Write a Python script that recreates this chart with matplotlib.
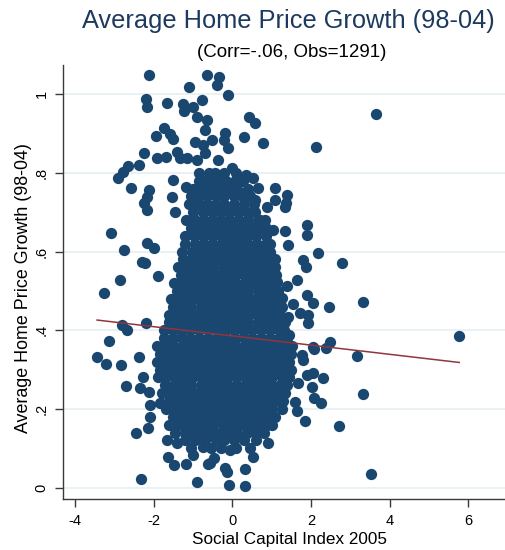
import numpy as np
import matplotlib
matplotlib.use("Agg")
import matplotlib.pyplot as plt

plt.rcParams['font.family'] = ['Liberation Sans', 'DejaVu Sans']

# scattered counties
sparse_x = [-2.12, -1.10, -0.64, -0.34, -0.39, -0.11, -2.20, -2.17, -1.66, -1.25,
            -1.23, -1.00, -0.77, -0.90, -0.64, 0.42, 0.58, -1.74, -1.94, -1.59,
            -1.51, -0.95, -0.75, -0.69, -2.25, -1.92, -1.69, -1.41, -1.33, -1.15,
            -0.90, -2.65, -2.37, -2.78, -2.91, -2.58, -2.12, -2.17, -1.51, -1.18,
            -1.53, -0.19, -0.52, -0.11, -0.21, 0.30, 0.78, 2.13, -0.69, -0.36,
            -0.01, 0.35, 0.53, 0.65, 1.09, 1.39, -0.64, -0.31, 0.02, 0.27,
            0.58, 1.09, 1.34, 0.88, 3.65, -3.09, -2.17, -1.99, -2.76, -2.30,
            -2.22, -2.86, -1.89, -3.27, -2.81, -2.68, -2.20, -3.14, -2.17, -2.25,
            -1.46, 1.90, 1.90, 2.18, 2.79, 1.80, 1.88, 1.65, 1.39, 1.26,
            1.90, 2.05, 2.46, 1.54, 1.72, 1.93, 1.93, 1.42, 1.44, 2.05,
            2.49, 1.37, 0.70, 1.04, 1.34, 1.42, 1.14, 3.32, 5.77, 3.18,
            3.33, 2.72, 3.53, -3.44, -3.21, -2.83, -2.37, -2.70, -2.27, -2.35,
            -2.12, -2.09, -1.84, -2.09, -2.15, -2.45, -2.32, -0.90, -1.66, -1.41,
            -1.64, -1.48, -1.18, -1.00, -0.62, 2.08, 2.38, 1.77, 1.80, 1.67,
            1.90, 2.05, 2.31, 2.03, 2.08, 2.26, 1.60, 1.65, 1.85, 0.91,
            0.53, 0.32, -0.47, -0.57, -0.19, -0.13, -0.08, 0.32, -0.06, -0.75]
sparse_y = [1.049, 1.019, 1.049, 1.044, 1.024, 0.998, 0.988, 0.968, 0.978, 0.975,
            0.958, 0.968, 0.986, 0.942, 0.935, 0.942, 0.927, 0.914, 0.894, 0.899,
            0.886, 0.879, 0.871, 0.910, 0.851, 0.838, 0.841, 0.853, 0.838, 0.838,
            0.833, 0.818, 0.820, 0.802, 0.787, 0.762, 0.757, 0.739, 0.782, 0.764,
            0.739, 0.901, 0.884, 0.863, 0.884, 0.891, 0.876, 0.866, 0.851, 0.833,
            0.813, 0.794, 0.787, 0.762, 0.762, 0.744, 0.782, 0.782, 0.774, 0.739,
            0.731, 0.731, 0.713, 0.713, 0.950, 0.647, 0.621, 0.609, 0.604, 0.574,
            0.571, 0.528, 0.538, 0.495, 0.414, 0.401, 0.419, 0.373, 0.706, 0.724,
            0.701, 0.667, 0.642, 0.596, 0.571, 0.579, 0.561, 0.528, 0.513, 0.482,
            0.490, 0.469, 0.459, 0.467, 0.444, 0.439, 0.419, 0.434, 0.388, 0.358,
            0.370, 0.724, 0.680, 0.655, 0.652, 0.617, 0.523, 0.473, 0.386, 0.335,
            0.238, 0.157, 0.034, 0.332, 0.315, 0.312, 0.332, 0.259, 0.281, 0.254,
            0.243, 0.210, 0.216, 0.180, 0.152, 0.139, 0.022, 0.015, 0.121, 0.114,
            0.078, 0.058, 0.060, 0.083, 0.060, 0.353, 0.355, 0.337, 0.325, 0.266,
            0.286, 0.291, 0.279, 0.256, 0.228, 0.216, 0.218, 0.195, 0.170, 0.113,
            0.078, 0.048, 0.075, 0.063, 0.050, 0.040, 0.007, 0.005, 0.096, 0.104]

# dense core, one row of x values per growth level
core_y = [0.80, 0.78, 0.76, 0.74, 0.72, 0.70, 0.68, 0.66, 0.64, 0.62,
          0.60, 0.58, 0.56, 0.54, 0.52, 0.50, 0.48, 0.46, 0.44, 0.42,
          0.40, 0.38, 0.36, 0.34, 0.32, 0.30, 0.28, 0.26, 0.24, 0.22,
          0.20, 0.18, 0.16, 0.14, 0.12, 0.10]
core_x = [
    [-0.85, -0.6, -0.45, -0.2, 0.1],
    [-0.86, -0.62, -0.4, -0.16, 0.06, 0.28],
    [-1.0, -0.78, -0.55, -0.35, -0.1, 0.12, 0.4],
    [-1.05, -0.86, -0.64, -0.42, -0.2, 0.03, 0.26, 0.45],
    [-1.1, -0.88, -0.65, -0.42, -0.2, 0.05, 0.3, 0.55],
    [-1.0, -0.74, -0.52, -0.3, -0.08, 0.14, 0.37, 0.58],
    [-1.18, -0.95, -0.72, -0.5, -0.28, -0.05, 0.18, 0.4, 0.65, 0.82],
    [-1.05, -0.82, -0.6, -0.37, -0.14, 0.09, 0.31, 0.52, 0.72, 0.85],
    [-1.2, -0.98, -0.75, -0.52, -0.3, -0.08, 0.15, 0.38, 0.6, 0.85],
    [-1.2, -0.95, -0.72, -0.5, -0.27, -0.04, 0.19, 0.41, 0.63, 0.85, 0.97],
    [-1.28, -1.02, -0.8, -0.58, -0.35, -0.12, 0.1, 0.32, 0.55, 0.78, 0.95],
    [-1.25, -1.02, -0.8, -0.57, -0.34, -0.11, 0.11, 0.34, 0.56, 0.79, 0.98, 1.08],
    [-1.38, -1.15, -0.92, -0.7, -0.48, -0.25, -0.02, 0.2, 0.42, 0.65, 0.88, 1.08],
    [-1.3, -1.07, -0.84, -0.61, -0.39, -0.17, 0.06, 0.29, 0.51, 0.74, 0.96, 1.1],
    [-1.48, -1.25, -1.02, -0.8, -0.58, -0.35, -0.12, 0.1, 0.32, 0.55, 0.78, 1.0, 1.12],
    [-1.4, -1.17, -0.94, -0.71, -0.49, -0.27, -0.04, 0.19, 0.41, 0.64, 0.87, 1.05, 1.15],
    [-1.55, -1.32, -1.1, -0.88, -0.65, -0.42, -0.2, 0.02, 0.25, 0.48, 0.7, 0.92, 1.15],
    [-1.5, -1.27, -1.04, -0.81, -0.59, -0.37, -0.14, 0.09, 0.31, 0.54, 0.77, 0.99, 1.18, 1.25],
    [-1.62, -1.4, -1.18, -0.95, -0.72, -0.5, -0.28, -0.05, 0.18, 0.4, 0.62, 0.85, 1.08, 1.2],
    [-1.62, -1.39, -1.17, -0.94, -0.71, -0.49, -0.27, -0.04, 0.19, 0.41, 0.64, 0.87, 1.09, 1.28, 1.35],
    [-1.75, -1.52, -1.3, -1.08, -0.85, -0.62, -0.4, -0.18, 0.05, 0.28, 0.5, 0.72, 0.95, 1.18, 1.32],
    [-1.75, -1.51, -1.29, -1.07, -0.84, -0.61, -0.39, -0.17, 0.06, 0.29, 0.51, 0.73, 0.96, 1.19, 1.38],
    [-1.92, -1.7, -1.48, -1.25, -1.02, -0.8, -0.58, -0.35, -0.12, 0.1, 0.32, 0.55, 0.78, 1.0, 1.22, 1.45, 1.52],
    [-1.85, -1.61, -1.39, -1.17, -0.94, -0.71, -0.49, -0.27, -0.04, 0.19, 0.41, 0.63, 0.86, 1.09, 1.31, 1.5],
    [-1.92, -1.7, -1.48, -1.25, -1.02, -0.8, -0.58, -0.35, -0.12, 0.1, 0.32, 0.55, 0.78, 1.0, 1.22, 1.45],
    [-1.85, -1.61, -1.39, -1.17, -0.94, -0.71, -0.49, -0.27, -0.04, 0.19, 0.41, 0.63, 0.86, 1.09, 1.31, 1.5],
    [-1.9, -1.68, -1.45, -1.22, -1.0, -0.78, -0.55, -0.32, -0.1, 0.12, 0.35, 0.58, 0.8, 1.02, 1.25, 1.45],
    [-1.72, -1.49, -1.27, -1.04, -0.81, -0.59, -0.37, -0.14, 0.09, 0.31, 0.53, 0.76, 0.99, 1.21, 1.38],
    [-1.78, -1.55, -1.32, -1.1, -0.88, -0.65, -0.42, -0.2, 0.02, 0.25, 0.48, 0.7, 0.92, 1.15, 1.35],
    [-1.62, -1.39, -1.17, -0.94, -0.71, -0.49, -0.27, -0.04, 0.19, 0.41, 0.63, 0.86, 1.09, 1.28],
    [-1.68, -1.45, -1.22, -1.0, -0.78, -0.55, -0.32, -0.1, 0.12, 0.35, 0.58, 0.8, 1.02, 1.25],
    [-1.52, -1.29, -1.07, -0.84, -0.61, -0.39, -0.17, 0.06, 0.29, 0.51, 0.73, 0.95, 1.08],
    [-1.6, -1.38, -1.15, -0.92, -0.7, -0.48, -0.25, -0.02, 0.2, 0.42, 0.65, 0.88, 1.0],
    [-1.45, -1.21, -0.99, -0.77, -0.54, -0.31, -0.09, 0.13, 0.36, 0.59, 0.8],
    [-1.2, -0.95, -0.7, -0.42, -0.2, 0.05, 0.3, 0.6],
    [-1.05, -0.55, -0.3, 0.1, 0.45],
]

# linear fit
fit_intercept = 0.3857
fit_slope = -0.0117

xticks = [-4, -2, 0, 2, 4, 6]
yticks = [0, 0.2, 0.4, 0.6, 0.8, 1.0]
ytick_labels = ['0', '.2', '.4', '.6', '.8', '1']

navy = '#1a476f'
maroon = '#90353b'
axis_col = '#3a3a3a'

# put all points together
x_all = np.array(sparse_x + [v for row in core_x for v in row])
y_all = np.array(sparse_y + [yy for yy, row in zip(core_y, core_x) for _ in row])

fig = plt.figure(figsize=(5.06, 5.5), dpi=100)
ax = fig.add_axes([0.1251, 0.0922, 0.8749, 0.7896])

for yt in yticks:
    ax.axhline(yt, color='#e8f0f3', lw=1.3, zorder=0)

ax.scatter(x_all, y_all, s=66, color=navy, linewidths=0, zorder=2)

fx = np.array([x_all.min(), x_all.max()])
ax.plot(fx, fit_intercept + fit_slope * fx, color=maroon, lw=1.1, zorder=3)

ax.set_xlim(-4.30, 6.96)
ax.set_ylim(-0.0295, 1.074)

ax.set_xticks(xticks)
ax.set_xticklabels([str(t) for t in xticks])
ax.set_yticks(yticks)
ax.set_yticklabels(ytick_labels, rotation=90, va='center')

for s in ['top', 'right']:
    ax.spines[s].set_visible(False)
for s in ['left', 'bottom']:
    ax.spines[s].set_color(axis_col)
    ax.spines[s].set_linewidth(1.0)

ax.tick_params(axis='both', colors=axis_col, labelcolor='black', length=5.5,
               width=1.0, pad=5, labelsize=10.5)

fig.text(0.570, 0.9485, 'Average Home Price Growth (98-04)', ha='center',
         va='baseline', fontsize=18.3, color='#1c3a5e')
fig.text(0.577, 0.8958, '(Corr=-.06, Obs=1291)', ha='center', va='baseline',
         fontsize=13.5, color='black')
fig.text(0.572, 0.0109, 'Social Capital Index 2005', ha='center',
         va='baseline', fontsize=12.3)
fig.text(0.0464, 0.4764, 'Average Home Price Growth (98-04)', ha='center',
         va='center', rotation=90, fontsize=12.9)

fig.savefig('out.png', dpi=100)
